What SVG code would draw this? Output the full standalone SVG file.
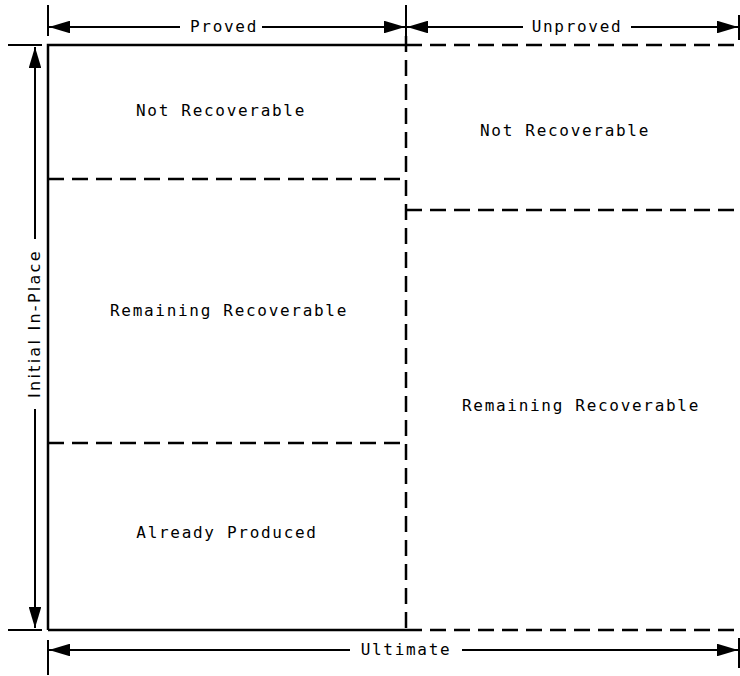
<svg xmlns="http://www.w3.org/2000/svg" width="740" height="676" viewBox="0 0 740 676">
  <style>
    .solid { stroke: #000; stroke-width: 2.5; fill: none; }
    .dash { stroke: #000; stroke-width: 2.5; fill: none; stroke-dasharray: 16 8; }
    .dim { stroke: #000; stroke-width: 2; fill: none; }
    .tick { stroke: #000; stroke-width: 2; fill: none; }
    .lbl { font-family: "DejaVu Sans Mono", "Liberation Mono", monospace; font-size: 16px; letter-spacing: 1.7px; fill: #000; text-anchor: middle; dominant-baseline: middle; }
    .vlbl { font-family: "DejaVu Sans", "Liberation Sans", sans-serif; font-size: 16px; letter-spacing: 1.5px; fill: #000; text-anchor: middle; dominant-baseline: middle; }
  </style>
  <defs>
    <marker id="head" viewBox="0 0 10 6" refX="10" refY="3" markerWidth="10.5" markerHeight="6.3" markerUnits="strokeWidth" orient="auto-start-reverse">
      <path d="M0,0 L10,3 L0,6 Z" fill="#000"/>
    </marker>
  </defs>
  <rect width="740" height="676" fill="#fff"/>

  <!-- outer frame: proved block solid, unproved block dashed -->
  <g id="frame">
    <path class="solid" d="M48,630 V45 H406"/>
    <path class="solid" d="M48,630 H406"/>
    <path class="dash" d="M406,45 H740"/>
    <path class="dash" d="M406,630 H740"/>
    <path class="dash" d="M406,36 V630"/>
    <path class="dash" d="M48,179 H406"/>
    <path class="dash" d="M48,443 H406"/>
    <path class="dash" d="M406,210 H740"/>
    <!-- extension lines -->
    <path class="tick" d="M8,45 H42 M8,630 H42"/>
    <path class="tick" d="M48,5 V36 M406,5 V36 M739,15 V40"/>
    <path class="tick" d="M48,640 V675 M739,638 V668"/>
  </g>

  <!-- region labels -->
  <g id="proved-not-recoverable"><text class="lbl" x="221" y="111">Not Recoverable</text></g>
  <g id="proved-remaining"><text class="lbl" x="229" y="311">Remaining Recoverable</text></g>
  <g id="proved-produced"><text class="lbl" x="227" y="533">Already Produced</text></g>
  <g id="unproved-not-recoverable"><text class="lbl" x="565" y="131">Not Recoverable</text></g>
  <g id="unproved-remaining"><text class="lbl" x="581" y="406">Remaining Recoverable</text></g>

  <!-- dimension arrows -->
  <g id="connectors">
    <path class="dim" d="M180,27 H49" marker-end="url(#head)"/>
    <path class="dim" d="M262,27 H405" marker-end="url(#head)"/>
    <text class="lbl" x="224" y="27">Proved</text>

    <path class="dim" d="M523,27 H407" marker-end="url(#head)"/>
    <path class="dim" d="M631,27 H738" marker-end="url(#head)"/>
    <text class="lbl" x="577" y="27">Unproved</text>

    <path class="dim" d="M350,650 H49" marker-end="url(#head)"/>
    <path class="dim" d="M462,650 H738" marker-end="url(#head)"/>
    <text class="lbl" x="406" y="650">Ultimate</text>

    <path class="dim" d="M35,239 V47" marker-end="url(#head)"/>
    <path class="dim" d="M35,409 V628" marker-end="url(#head)"/>
    <text class="vlbl" x="0" y="0" textLength="148" lengthAdjust="spacing" transform="translate(35,324) rotate(-90)">Initial In-Place</text>
  </g>
</svg>
